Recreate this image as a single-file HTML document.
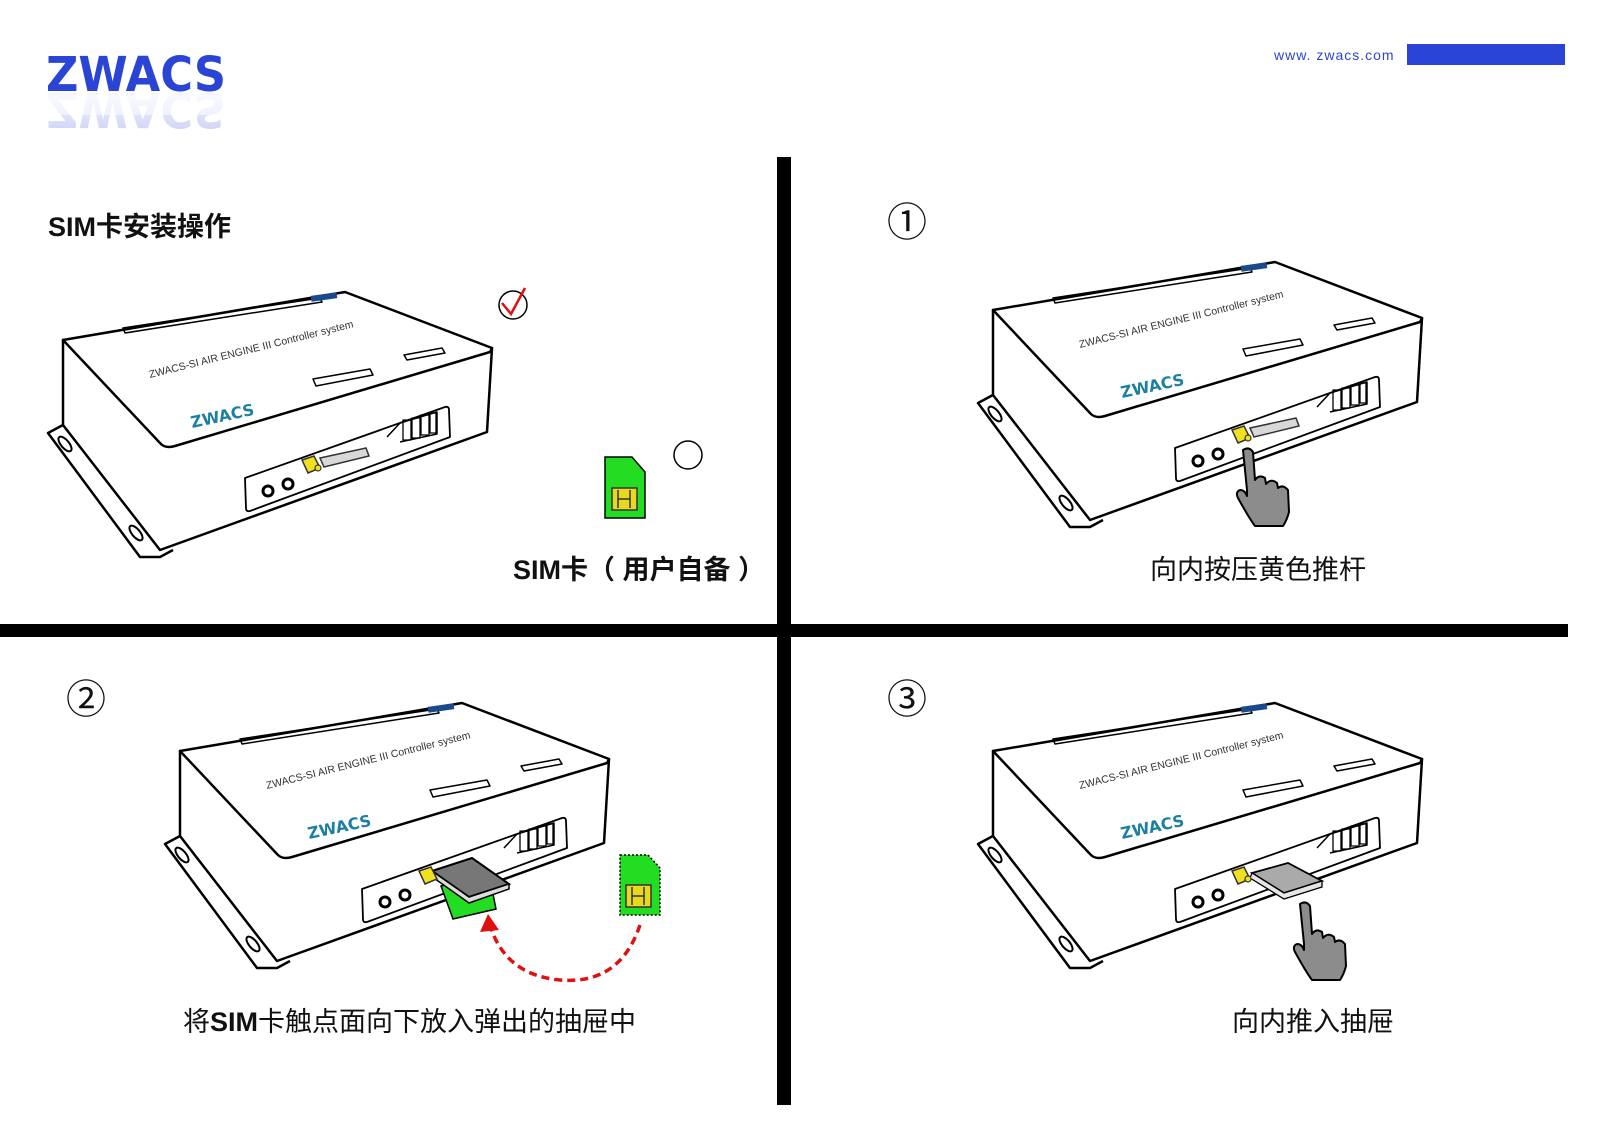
<!DOCTYPE html>
<html><head><meta charset="utf-8"><style>
html,body{margin:0;padding:0;background:#fff;}
body{width:1600px;height:1130px;position:relative;overflow:hidden;font-family:"Liberation Sans","Noto Sans CJK SC",sans-serif;}
.t{position:absolute;font-weight:bold;font-size:27px;color:#111;white-space:nowrap;line-height:1;font-family:"Liberation Sans","Noto Sans CJK SC",sans-serif;}
.n{position:absolute;font-size:40px;color:#111;line-height:1;}
</style></head><body>
<svg width="1600" height="1130" style="position:absolute;left:0;top:0">
<defs>
<g id="dev" fill="none" stroke="#000" stroke-width="2.5" stroke-linejoin="round">
<path d="M63,425 L48,433 L140,557 L160,557 L173,550" fill="#fff"/>
<ellipse cx="65" cy="444" rx="4" ry="9" transform="rotate(-40 65 444)" stroke-width="2"/>
<ellipse cx="136" cy="533" rx="4" ry="9" transform="rotate(-40 136 533)" stroke-width="2"/>
<path d="M63,340 L63,425 L160,550 L487,432 L492,348 Z" fill="#fff"/>
<path d="M63,340 L345,292 L492,348 L490,352 L175,446 Q165,449 160,443 Z" fill="#fff"/>
<path d="M123,328 L320,298 L322,302 L125,333 Z" stroke-width="1.5"/>
<rect x="311" y="294" width="26" height="6" fill="#1a4a8a" stroke="none" transform="rotate(-8 324 297)"/>
<path d="M313,379 L370,369 L373,375 L316,386 Z" stroke-width="1.5"/>
<path d="M404,355 L442,348 L445,353 L407,360 Z" stroke-width="1.5"/>
<text x="150" y="378" font-size="10.5" fill="#333" stroke="none" font-family="Liberation Sans,sans-serif" transform="rotate(-14 150 378)">ZWACS-SI AIR ENGINE III Controller system</text>
<text x="192" y="428" font-size="16" font-weight="900" fill="#1d7fa3" stroke="none" font-family="DejaVu Sans,sans-serif" transform="rotate(-12 192 428)">ZWACS</text>
<path d="M245,478 L445,407 Q449,406 449,410 L450,437 L250,511 Q246,512 246,508 Z" stroke-width="1.8" fill="#fff"/>
<path d="M387,437 L400,423 L437,412 L437,434 L400,442" stroke-width="1.5"/>
<path d="M403,420 h8 v20 h-8z M412,418 h8 v20 h-8z M421,415 h8 v20 h-8z M430,413 h6 v20 h-6z" stroke-width="1.3"/>
<circle cx="268" cy="491" r="5" stroke-width="3"/><circle cx="288" cy="484" r="5" stroke-width="3"/>
</g>
<g id="pusher">
<path d="M320,458 L366,448 L369,456 L324,467 Z" fill="#d8d8d8" stroke="#333" stroke-width="1.5"/>
<path d="M302,460 L314,456 L320,468 L308,473 Z" fill="#f0e020" stroke="#333" stroke-width="1.5"/>
<circle cx="318" cy="468" r="3" fill="#f0e020" stroke="#333" stroke-width="1.2"/>
</g>
<g id="hand" fill="#8c8c8c" stroke="#000" stroke-width="2" stroke-linejoin="round">
<path d="M0,0 Q6,-4 10,2 L12,30 Q16,24 22,28 L23,34 Q28,28 34,33 L35,38 Q40,34 45,40 L46,62 Q44,70 40,76 L12,76 Q6,68 -5,48 Q-8,42 -3,40 Q2,40 4,46 L4,40 Z"/>
</g>
<linearGradient id="fade" x1="0" y1="0" x2="0" y2="1"><stop offset="0" stop-color="#2a45d6" stop-opacity="0.25"/><stop offset="1" stop-color="#2a45d6" stop-opacity="0"/></linearGradient>
</defs>

<text x="46" y="91" font-size="48" font-weight="900" font-family="DejaVu Sans,sans-serif" fill="#2a45d6" textLength="180" lengthAdjust="spacingAndGlyphs">ZWACS</text>
<text x="46" y="91" font-size="48" font-weight="900" font-family="DejaVu Sans,sans-serif" fill="url(#fade)" textLength="180" lengthAdjust="spacingAndGlyphs" transform="translate(0,184) scale(1,-1)">ZWACS</text>
<rect x="40" y="95" width="200" height="20" fill="#fff" opacity="0.5"/>
<text x="1274" y="60" font-size="14" fill="#2a45d6" font-family="Liberation Sans,sans-serif" letter-spacing="1">www. zwacs.com</text>
<rect x="1407" y="44" width="158" height="21" fill="#2a45d6"/>

<rect x="777" y="157" width="14" height="948" fill="#000"/>
<rect x="0" y="624" width="1568" height="13" fill="#000"/>

<use href="#dev"/><use href="#pusher"/>
<circle cx="513" cy="305" r="14" fill="none" stroke="#000" stroke-width="1.5"/>
<path d="M502,303 L511,314 L525,288" fill="none" stroke="#e01010" stroke-width="2.5"/>
<circle cx="688" cy="455" r="14" fill="none" stroke="#000" stroke-width="1.5"/>
<path d="M605,457 L632,457 L645,472 L645,518 L605,518 Z" fill="#22dd22" stroke="#000" stroke-width="1.5"/>
<rect x="612" y="488" width="25" height="22" fill="#e8d820" stroke="#333" stroke-width="1.5"/>
<path d="M618,490 v18 M630,490 v18 M618,499 h12" stroke="#333" stroke-width="1.5"/>

<g transform="translate(930,-30)"><use href="#dev"/><use href="#pusher"/></g>
<use href="#hand" transform="translate(1243,450)"/>

<g transform="translate(117,411)"><use href="#dev"/>
<path d="M324,475 L372,463 L379,498 L336,508 Z" fill="#22dd22" stroke="#000" stroke-width="1.5"/>
<path d="M315,460 L355,447 L392,473 L352,486 Z" fill="#777" stroke="#000" stroke-width="2"/>
<path d="M315,460 L352,486 L392,473 L392,478 L352,492 L314,465 Z" fill="#ddd" stroke="#000" stroke-width="1.5"/>
<path d="M302,460 L314,456 L320,468 L308,473 Z" fill="#f0e020" stroke="#333" stroke-width="1.5"/>
</g>
<path d="M620,855 L648,855 L660,868 L660,915 L620,915 Z" fill="#22dd22" stroke="#000" stroke-width="1.5" stroke-dasharray="2 2"/>
<rect x="626" y="885" width="25" height="22" fill="#e8d820" stroke="#333" stroke-width="1.5"/>
<path d="M632,887 v18 M644,887 v18 M632,896 h12" stroke="#333" stroke-width="1.5"/>
<path d="M640,925 Q620,985 560,980 Q505,975 490,925" fill="none" stroke="#e01010" stroke-width="3.5" stroke-dasharray="8 5"/>
<path d="M480,932 L488,914 L499,930 Z" fill="#e01010"/>

<g transform="translate(930,411)"><use href="#dev"/>
<path d="M322,462 L358,452 L392,470 L354,482 Z" fill="#aaa" stroke="#000" stroke-width="1.8"/>
<path d="M322,462 L354,482 L392,470 L392,476 L354,488 L320,467 Z" fill="#e6e6e6" stroke="#000" stroke-width="1.3"/>
<path d="M302,460 L314,456 L320,468 L308,473 Z" fill="#f0e020" stroke="#333" stroke-width="1.5"/>
<circle cx="318" cy="468" r="3" fill="#f0e020" stroke="#333" stroke-width="1.2"/>
</g>
<use href="#hand" transform="translate(1300,904)"/>
</svg>

<div class="t" style="left:48px;top:214px">SIM卡安装操作</div>
<div class="t" style="left:513px;top:557px">SIM卡（ 用户自备 ）</div>
<div class="t" style="left:1150px;top:557px;font-weight:normal">向内按压黄色推杆</div>
<div class="t" style="left:183px;top:1009px;font-weight:normal">将<b>SIM</b>卡触点面向下放入弹出的抽屉中</div>
<div class="t" style="left:1232px;top:1009px;font-weight:normal">向内推入抽屉</div>
<div class="n" style="left:887px;top:203px">①</div>
<div class="n" style="left:66px;top:680px">②</div>
<div class="n" style="left:887px;top:680px">③</div>
</body></html>
